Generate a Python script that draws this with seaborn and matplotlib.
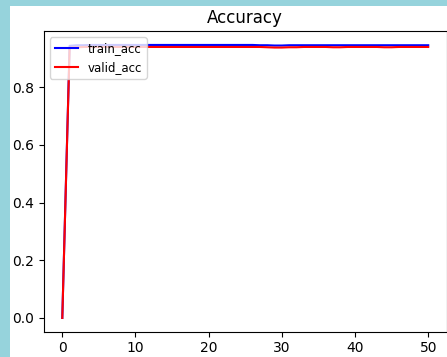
import matplotlib
matplotlib.use("Agg")
import matplotlib.pyplot as plt
from matplotlib.patches import Rectangle
import seaborn as sns
import pandas as pd

epochs = list(range(51))
train_acc = [0.0, 0.944, 0.946, 0.946, 0.947, 0.947, 0.947, 0.947, 0.947, 0.947,
             0.947, 0.947, 0.947, 0.947, 0.947, 0.947, 0.947, 0.947, 0.947, 0.947,
             0.947, 0.947, 0.947, 0.947, 0.947, 0.947, 0.947, 0.946, 0.946, 0.945,
             0.945, 0.946, 0.946, 0.946, 0.946, 0.946, 0.946, 0.946, 0.946, 0.946,
             0.946, 0.946, 0.946, 0.946, 0.946, 0.946, 0.946, 0.946, 0.946, 0.946,
             0.946]
valid_acc = [0.0, 0.938, 0.939, 0.940, 0.940, 0.940, 0.940, 0.940, 0.940, 0.940,
             0.940, 0.940, 0.940, 0.940, 0.940, 0.940, 0.940, 0.940, 0.940, 0.940,
             0.940, 0.940, 0.940, 0.940, 0.940, 0.940, 0.940, 0.940, 0.939, 0.938,
             0.938, 0.939, 0.939, 0.940, 0.940, 0.940, 0.940, 0.939, 0.939, 0.940,
             0.940, 0.940, 0.940, 0.940, 0.939, 0.939, 0.940, 0.940, 0.940, 0.940,
             0.940]

df = pd.DataFrame({"epoch": epochs, "train_acc": train_acc, "valid_acc": valid_acc})

W, H = 447, 357
fig = plt.figure(figsize=(W / 100, H / 100), dpi=100, facecolor="#96d3dc")
fig.patches.append(Rectangle((10 / W, 0), 1 - 10 / W, 1 - 6 / H,
                             transform=fig.transFigure, facecolor="white",
                             edgecolor="none", zorder=-1))
ax = fig.add_axes([44 / W, (357 - 331.6) / H, 402.5 / W, 300.3 / H])

sns.lineplot(data=df, x="epoch", y="train_acc", color="blue", label="train_acc", ax=ax)
sns.lineplot(data=df, x="epoch", y="valid_acc", color="red", label="valid_acc", ax=ax)

ax.set_title("Accuracy")
ax.set_xlabel("")
ax.set_ylabel("")
ax.legend(loc="upper left", fontsize=8.5)

fig.savefig("out.png", dpi=100, facecolor=fig.get_facecolor())
